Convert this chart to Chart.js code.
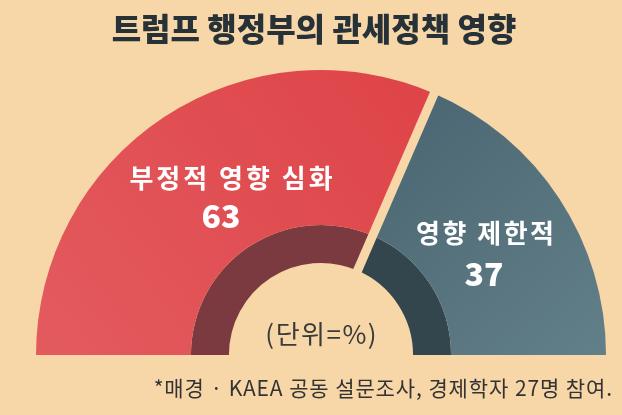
<!DOCTYPE html>
<html>
<head>
<meta charset="utf-8">
<script src="https://cdn.jsdelivr.net/npm/chart.js@4"></script>
<style>
  html, body { margin: 0; padding: 0; background: #F7D6A8; }
  #wrap { width: 622px; height: 415px; position: relative; }
</style>
</head>
<body>
<div id="wrap"><canvas id="chart" width="622" height="415"></canvas></div>
<script>
const chartTitle = '트럼프 행정부의 관세정책 영향';
const categories = ['부정적 영향 심화', '영향 제한적'];
const shares = [63, 37];
const unitNote = '(단위=%)';
const footNote = '*매경 · KAEA 공동 설문조사, 경제학자 27명 참여.';

const bg = '#F7D6A8';
const font = '"Noto Sans CJK KR", "Noto Sans", sans-serif';

// 바깥 링 색 (그라데이션)
function outerColor(c) {
  const chart = c.chart;
  const area = chart.chartArea;
  if (!area) return c.dataIndex === 0 ? '#E04C4F' : '#547079';
  const g = chart.ctx;
  if (c.dataIndex === 0) {
    const grad = g.createLinearGradient(420, 80, 60, 355);
    grad.addColorStop(0, '#DE4448');
    grad.addColorStop(1, '#E35A5E');
    return grad;
  }
  const grad = g.createLinearGradient(380, 100, 610, 355);
  grad.addColorStop(0, '#4A6571');
  grad.addColorStop(1, '#62808A');
  return grad;
}

const innerColors = ['#7A3A3F', '#34464D'];

function label(ctx, text, x, y, spacing) {
  ctx.letterSpacing = spacing + 'px';
  // letterSpacing이 끝에도 붙으므로 중앙 정렬 보정
  ctx.fillText(text, x + spacing / 2, y);
  ctx.letterSpacing = '0px';
}

const overlay = {
  id: 'overlay',
  afterDatasetsDraw(chart) {
    const ctx = chart.ctx;
    const outer = chart.getDatasetMeta(0).data[0];
    const inner = chart.getDatasetMeta(1).data[0];
    const a = outer.endAngle;
    const r0 = inner.innerRadius - 2;
    const r1 = outer.outerRadius + 3;
    ctx.save();
    ctx.strokeStyle = bg;
    ctx.lineWidth = 9;
    ctx.beginPath();
    ctx.moveTo(outer.x + Math.cos(a) * r0, outer.y + Math.sin(a) * r0);
    ctx.lineTo(outer.x + Math.cos(a) * r1, outer.y + Math.sin(a) * r1);
    ctx.stroke();

    ctx.textAlign = 'center';
    ctx.textBaseline = 'alphabetic';
    ctx.fillStyle = '#FFFFFF';
    ctx.font = 'bold 26px ' + font;
    label(ctx, categories[0], 231, 188, 3);
    ctx.font = '900 32px ' + font;
    label(ctx, String(shares[0]), 221, 228, 0);
    ctx.font = 'bold 26px ' + font;
    label(ctx, categories[1], 485, 243, 2.5);
    ctx.font = '900 32px ' + font;
    label(ctx, String(shares[1]), 484, 286, 0);

    ctx.fillStyle = '#3A3A3A';
    ctx.font = '26px ' + font;
    label(ctx, unitNote, 321, 344, 1.5);

    ctx.fillStyle = '#263238';
    ctx.font = '900 32px ' + font;
    label(ctx, chartTitle, 314, 41, 0);

    ctx.fillStyle = '#333333';
    ctx.font = '21px ' + font;
    ctx.textAlign = 'right';
    ctx.letterSpacing = '0.9px';
    ctx.fillText(footNote, 613, 396);
    ctx.restore();
  }
};

new Chart(document.getElementById('chart'), {
  type: 'doughnut',
  data: {
    labels: categories,
    datasets: [{
      data: shares,
      backgroundColor: outerColor,
      borderWidth: 0,
      weight: 155
    }, {
      data: shares,
      backgroundColor: innerColors,
      borderWidth: 0,
      weight: 38
    }]
  },
  options: {
    responsive: false,
    animation: false,
    rotation: -90,
    circumference: 180,
    radius: 285,
    cutout: '32.3%',
    layout: { padding: { left: 36, right: 16, top: 70, bottom: 60 } },
    plugins: {
      legend: { display: false },
      tooltip: { enabled: false },
      title: { display: false }
    }
  },
  plugins: [overlay]
});
</script>
</body>
</html>
